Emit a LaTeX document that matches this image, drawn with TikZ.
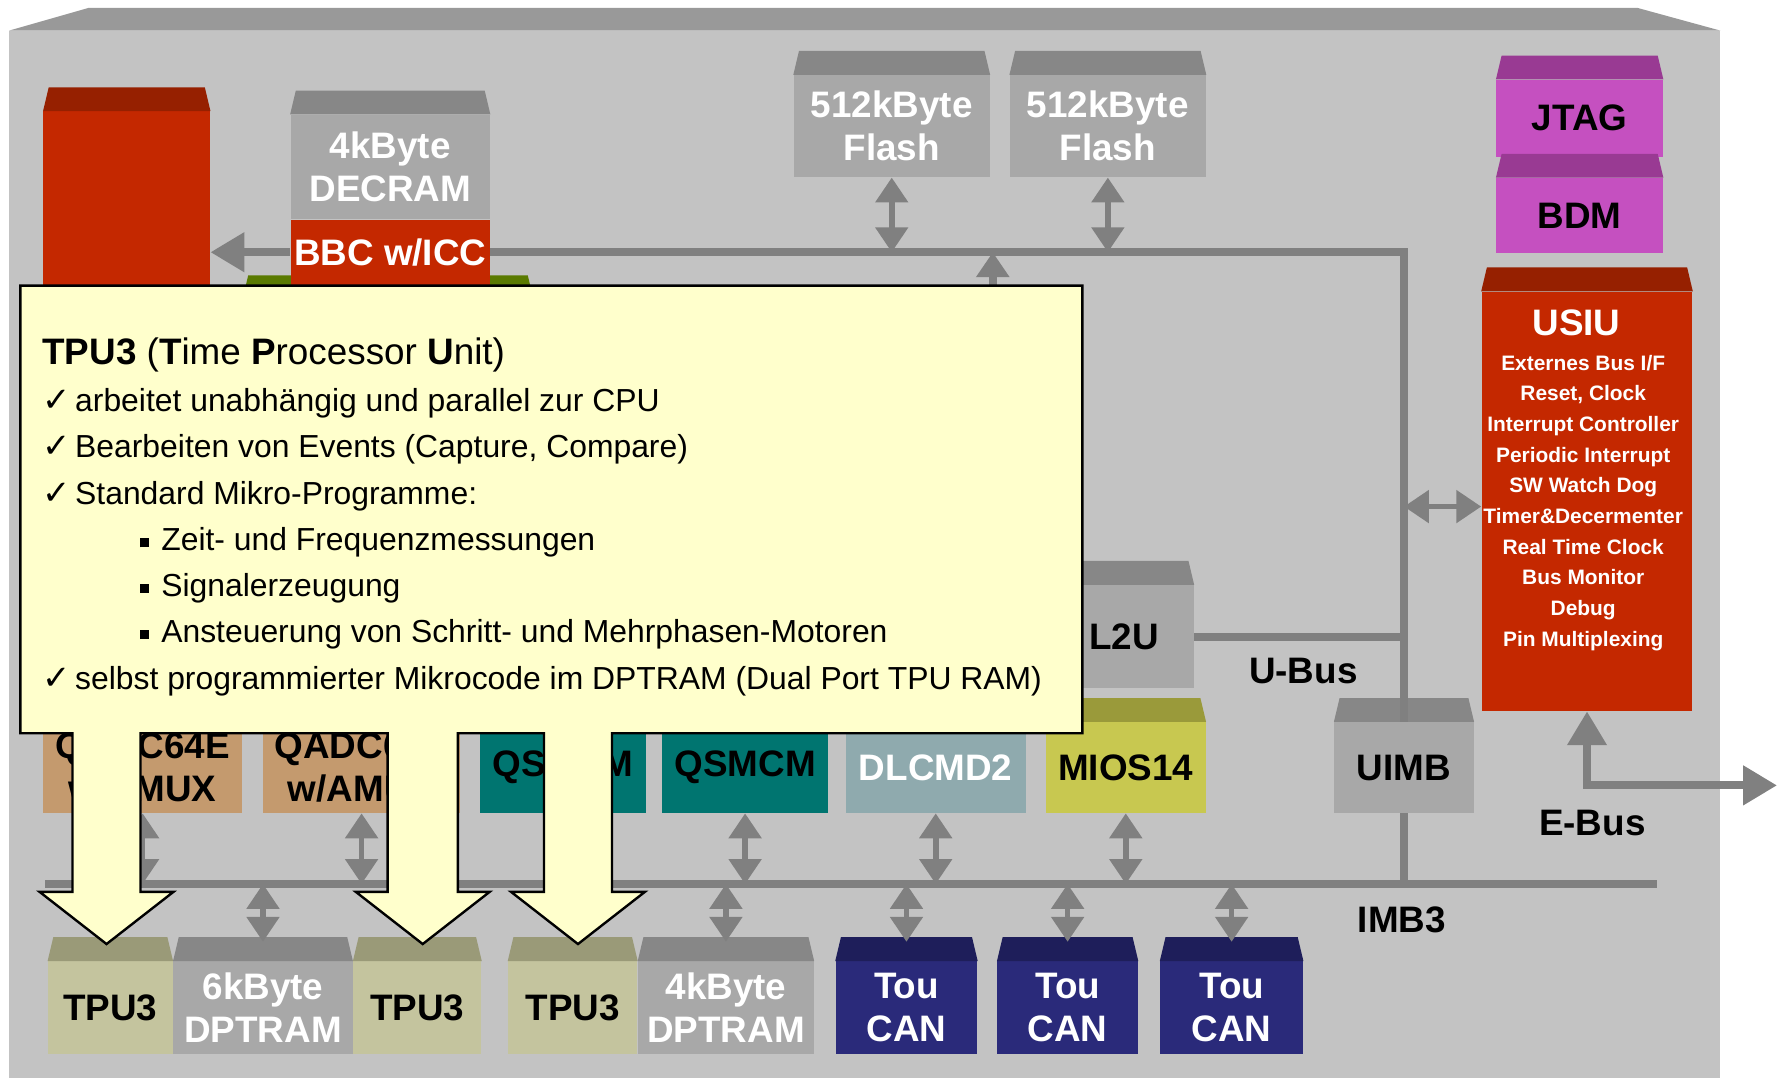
\documentclass[tikz,border=0pt]{standalone}
\usepackage{fontspec}
\setmainfont{Liberation Sans}
\newfontfamily\symfont{DejaVu Sans}
\usetikzlibrary{arrows.meta,positioning}

\definecolor{chipfront}{HTML}{C3C3C3}
\definecolor{chiptop}{HTML}{999999}
\definecolor{memfront}{HTML}{A8A8A8}
\definecolor{memtop}{HTML}{878787}
\definecolor{busgray}{HTML}{808080}
\definecolor{redfront}{HTML}{C42800}
\definecolor{redtop}{HTML}{962000}
\definecolor{greenfront}{HTML}{6E9400}
\definecolor{greentop}{HTML}{5A7A00}
\definecolor{magfront}{HTML}{C550C0}
\definecolor{magtop}{HTML}{993A93}
\definecolor{qadcfront}{HTML}{C49A6E}
\definecolor{qadctop}{HTML}{9A7650}
\definecolor{qsmfront}{HTML}{007570}
\definecolor{qsmtop}{HTML}{005A56}
\definecolor{dlcfront}{HTML}{8FAAAE}
\definecolor{dlctop}{HTML}{6E8A8E}
\definecolor{miosfront}{HTML}{C8C850}
\definecolor{miostop}{HTML}{9A9A3A}
\definecolor{tpufront}{HTML}{C4C49E}
\definecolor{tputop}{HTML}{9A9A78}
\definecolor{canfront}{HTML}{2A2A7A}
\definecolor{cantop}{HTML}{1E1E5A}
\definecolor{notefill}{HTML}{FFFFCC}

% slanted top face over a block node
\newcommand{\topface}[2]{%
  \fill[#2] (#1.north west) -- ([shift={(5,-21)}]#1.north west)
    -- ([shift={(-5,-21)}]#1.north east) -- (#1.north east) -- cycle;}
\newcommand{\chk}{\makebox[5.8mm][l]{\symfont\fontsize{17}{17}\selectfont ✓}}
\newcommand{\bul}{\makebox[3.8mm][l]{\rule[0.6mm]{1.6mm}{1.6mm}}}

\begin{document}
\begin{tikzpicture}[x=0.2mm, y=-0.2mm,
    bx/.style 2 args={minimum width=#1*0.2mm, minimum height=#2*0.2mm},
    blk/.style={anchor=north west, inner sep=0pt, align=center,
      font=\bfseries\fontsize{18.5}{21.6}\selectfont},
    mem/.style={blk, fill=memfront, text=white},
    redblk/.style={blk, fill=redfront, text=white},
    magblk/.style={blk, fill=magfront, text=black},
    qadc/.style={blk, fill=qadcfront, text=black},
    qsm/.style={blk, fill=qsmfront, text=black},
    dlc/.style={blk, fill=dlcfront, text=white},
    mios/.style={blk, fill=miosfront, text=black},
    tpu/.style={blk, fill=tpufront, text=black},
    can/.style={blk, fill=canfront, text=white},
    lbl/.style={font=\bfseries\fontsize{18.5}{21.6}\selectfont, text=black},
    bus/.style={draw=busgray, line width=4pt},
    dbl/.style={draw=busgray, line width=2.8pt,
      {Triangle[length=12.5pt,width=16pt]}-{Triangle[length=12.5pt,width=16pt]}},
    bigtip/.style={draw=busgray, line width=4pt, -{Triangle[length=17pt,width=19pt]}},
    notetext/.style={anchor=base west, inner sep=0pt, font=\fontsize{16}{23}\selectfont}]
  \useasboundingbox (0,0) rectangle (1568,951);

  % chip
  \fill[chiptop] (8,27) -- (78,7) -- (1445,7) -- (1518,27) -- cycle;
  \fill[chipfront] (8,27) rectangle (1518,951);

  % upper blocks
  \node[redblk, bx={147}{200}] (cpu) at (38,98) {};
  \topface{cpu}{redtop}
  \node[blk, fill=greenfront, bx={256}{100}] (green) at (214,264) {};
  \topface{green}{greentop}
  \node[mem, bx={176}{92}] (decram) at (256,101) {4kByte\\DECRAM};
  \topface{decram}{memtop}
  \node[redblk, bx={176}{57}, below=0pt of decram] (bbc) {BBC w/ICC};
  \node[mem, bx={173}{90}] (flash1) at (700,66) {512kByte\\Flash};
  \topface{flash1}{memtop}
  \node[mem, bx={173}{90}, right=3.4mm of flash1] (flash2) {512kByte\\Flash};
  \topface{flash2}{memtop}
  \node[magblk, bx={147}{68}] (jtag) at (1320,70) {JTAG};
  \topface{jtag}{magtop}
  \node[magblk, bx={147}{66}, below=3.6mm of jtag] (bdm) {BDM};
  \topface{bdm}{magtop}
  \node[redblk, bx={186}{370}] (usiu) at (1307,257) {};
  \topface{usiu}{redtop}
  \node[lbl, text=white] (usiutitle) at (1391,285) {USIU};
  \node[anchor=north, inner sep=0pt, align=center, text=white,
    font=\bfseries\fontsize{10.5}{15.4}\selectfont] (usiulist) at (1397,313)
    {Externes Bus I/F\\Reset, Clock\\Interrupt Controller\\Periodic Interrupt\\
     SW Watch Dog\\Timer\&Decermenter\\Real Time Clock\\Bus Monitor\\Debug\\
     Pin Multiplexing};
  \node[mem, text=black, bx={123}{91}] (l2u) at (930,516) {L2U};
  \topface{l2u}{memtop}

  % module row
  \node[qadc, bx={175}{80}] (qadc1) at (38,637) {QADC64E\\w/AMUX};
  \topface{qadc1}{qadctop}
  \node[qadc, bx={174}{80}, right=3.6mm of qadc1] (qadc2) {QADC64E\\w/AMUX};
  \topface{qadc2}{qadctop}
  \node[qsm, bx={146}{80}, right=3.4mm of qadc2] (qsmcm1) {QSMCM};
  \topface{qsmcm1}{qsmtop}
  \node[qsm, bx={146}{80}, right=2.8mm of qsmcm1] (qsmcm2) {QSMCM};
  \topface{qsmcm2}{qsmtop}
  \node[dlc, bx={159}{80}, right=3mm of qsmcm2] (dlcmd) {DLCMD2};
  \topface{dlcmd}{dlctop}
  \node[mios, bx={141}{80}, right=3.4mm of dlcmd] (mios) {MIOS14};
  \topface{mios}{miostop}
  \node[mem, text=black, bx={123}{80}] (uimb) at (1177,637) {UIMB};
  \topface{uimb}{memtop}

  % bottom row
  \node[tpu, bx={110}{82}] (tpu1) at (42,848) {TPU3};
  \topface{tpu1}{tputop}
  \node[mem, bx={158}{82}, right=0pt of tpu1] (dp6) {6kByte\\DPTRAM};
  \topface{dp6}{memtop}
  \node[tpu, bx={113}{82}, right=0pt of dp6] (tpu2) {TPU3};
  \topface{tpu2}{tputop}
  \node[tpu, bx={114}{82}] (tpu3) at (448,848) {TPU3};
  \topface{tpu3}{tputop}
  \node[mem, bx={155}{82}, right=0pt of tpu3] (dp4) {4kByte\\DPTRAM};
  \topface{dp4}{memtop}
  \node[can, bx={125}{82}] (can1) at (737,848) {Tou\\CAN};
  \topface{can1}{cantop}
  \node[can, bx={124}{82}, right=3.4mm of can1] (can2) {Tou\\CAN};
  \topface{can2}{cantop}
  \node[can, bx={126}{82}, right=3.8mm of can2] (can3) {Tou\\CAN};
  \topface{can3}{cantop}

  % U-Bus and L-Bus side
  \draw[bus] (bbc.east) -| (uimb.north);
  \draw[bigtip] (bbc.west) -- (bbc.west -| cpu.east);
  \coordinate (lbus) at (876,300);
  \draw[bus, -{Triangle[length=12.5pt,width=16pt]}] (lbus) -- (lbus |- bbc.east);
  \draw[dbl] (flash1.south) -- (flash1.south |- bbc.east);
  \draw[dbl] (flash2.south) -- (flash2.south |- bbc.east);
  \draw[bus] (l2u.east) -- (l2u.east -| uimb.north);
  \path (uimb.north) ++(0,-190) coordinate (ujoin);
  \draw[dbl] (ujoin) -- (ujoin -| usiu.west);

  % IMB3
  \coordinate (imbL) at (40,780);
  \coordinate (imbR) at (1462,780);
  \draw[bus] (imbL) -- (imbR);
  \draw[bus] (uimb.south) -- (uimb.south |- imbR);
  \foreach \m in {qadc1,qadc2,qsmcm1,qsmcm2,dlcmd,mios}
    \draw[dbl] (\m.south) -- (\m.south |- imbL);
  \foreach \m in {tpu1,dp6,tpu2,tpu3,dp4,can1,can2,can3}
    \draw[dbl] (\m.north |- imbL) -- ([yshift=3.4mm]\m.north);

  % E-Bus
  \coordinate (eout) at (1568,693);
  \draw[bus, {Triangle[length=17pt,width=19pt]}-{Triangle[length=17pt,width=19pt]}]
    (usiu.south) |- (eout);

  \node[lbl] (ubuslbl) at (1150,592) {U-Bus};
  \node[lbl] (imblbl) at (1237,812) {IMB3};
  \node[lbl] (ebuslbl) at (1405,726) {E-Bus};

  % TPU3 callout
  \filldraw[fill=notefill, draw=black, line width=1.2pt]
    (18,252) -- (955,252) -- (955,647) -- (540,647) -- (540,787) -- (569,787)
    -- (510,833) -- (451,787) -- (480,787) -- (480,647) -- (404,647) -- (404,787)
    -- (432,787) -- (373,833) -- (314,787) -- (342,787) -- (342,647) -- (124,647)
    -- (124,787) -- (153,787) -- (94,833) -- (35,787) -- (64,787) -- (64,647)
    -- (18,647) -- cycle;
  \node[notetext, font=\fontsize{18.5}{23}\selectfont] (notetitle) at (37,322)
    {\textbf{TPU3} (\textbf{T}ime \textbf{P}rocessor \textbf{U}nit)};
  \node[notetext] (feat1) at (37,363) {\chk arbeitet unabhängig und parallel zur CPU};
  \node[notetext] (feat2) at (37,404) {\chk Bearbeiten von Events (Capture, Compare)};
  \node[notetext] (feat3) at (37,445) {\chk Standard Mikro-Programme:};
  \node[notetext] (prog1) at (123,486) {\bul Zeit- und Frequenzmessungen};
  \node[notetext] (prog2) at (123,526) {\bul Signalerzeugung};
  \node[notetext] (prog3) at (123,567) {\bul Ansteuerung von Schritt- und Mehrphasen-Motoren};
  \node[notetext] (feat4) at (37,608) {\chk selbst programmierter Mikrocode im DPTRAM (Dual Port TPU RAM)};
\end{tikzpicture}
\end{document}
